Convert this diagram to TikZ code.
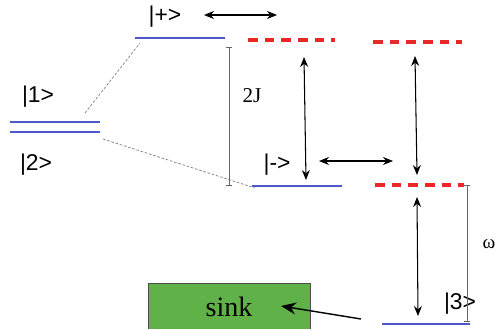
\documentclass[tikz,border=0pt]{standalone}
\usepackage{fontspec}
\setmainfont{Liberation Serif}
\newfontfamily\ketfont{Liberation Sans}
\usetikzlibrary{arrows.meta, positioning}
\definecolor{stateblue}{RGB}{78,88,200}
\definecolor{virtred}{RGB}{232,40,40}
\definecolor{sinkgreen}{RGB}{96,178,72}

\begin{document}
\begin{tikzpicture}[x=0.02cm, y=-0.02cm,
    state/.style={draw=stateblue, line width=1.2pt},
    virt/.style={draw=virtred, line width=1.9pt, dash pattern=on 5.5pt off 4pt},
    ket/.style={font=\ketfont\fontsize{13}{15}\selectfont, inner sep=1pt},
    link/.style={draw=gray, thin, dash pattern=on 1.5pt off 1pt},
    gapline/.style={draw=gray!80!black, thin, {Bar[width=3pt]}-{Bar[width=3pt]}},
    arrow/.style={{Stealth[length=2mm, width=1.6mm]}-{Stealth[length=2mm, width=1.6mm]}, semithick}
]
\useasboundingbox (0,0) rectangle (500,328);

% Levels
\coordinate (oneL) at (10,122);   \coordinate (oneR) at (100,122);
\coordinate (twoL) at (10,132);   \coordinate (twoR) at (100,132);
\coordinate (plusL) at (135,38);  \coordinate (plusR) at (225,38);
\coordinate (minusL) at (252,186);\coordinate (minusR) at (342,186);
\coordinate (threeL) at (382,324);\coordinate (threeR) at (470,324);
\coordinate (vaL) at (248,40);    \coordinate (vaR) at (335,40);
\coordinate (vbL) at (373,42);    \coordinate (vbR) at (462,42);
\coordinate (vcL) at (375,185);   \coordinate (vcR) at (464,185);

\draw [state] (oneL) -- (oneR);
\draw [state] (twoL) -- (twoR);
\draw [state] (plusL) -- (plusR);
\draw [state] (minusL) -- (minusR);
\draw [state] (threeL) -- (threeR);
\draw [virt] (vaL) -- (vaR);
\draw [virt] (vbL) -- (vbR);
\draw [virt] (vcL) -- (vcR);

% Labels
\node [ket] (one) at (38,97) {|1>};
\node [ket] (two) at (36,165) {|2>};
\node [ket] (plus) at (165,17) {|+>};
\node [ket] (minus) at (277,165) {|->};
\node [ket] (three) at (460,304) {|3>};
\node [font=\fontsize{12}{14}\selectfont] (twoJ) at (252,96) {2J};
\node [font=\fontsize{11}{13}\selectfont] (omega) at (489,244) {ω};

\node [draw=black!70, fill=sinkgreen, minimum width=3.24cm, minimum height=0.95cm,
       font=\fontsize{16}{18}\selectfont] (sink) at (229,307) {sink};

% Dotted links
\draw [link] (85,113) -- (140,43);
\draw [link] (103,139) -- (255,188);

% Splittings
\draw [gapline] (229,47) -- (229,186);
\draw [gapline] (467,185) -- (467,322);

% Arrows
\coordinate (topL) at (204,15);   \coordinate (topR) at (277,15);
\coordinate (midL) at (319,161);  \coordinate (midR) at (393,161);
\coordinate (drain) at (361,319); \coordinate (sinkin) at (281,306);
\draw [arrow] (topL) -- (topR);
\draw [arrow] (midL) -- (midR);
\draw [arrow] (304,57) -- (306,180);
\draw [arrow] (415,56) -- (417,175);
\draw [arrow] (417,197) -- (418,316);
\draw [-{Stealth[length=3mm, width=2.4mm]}, thick] (drain) -- (sinkin);

\end{tikzpicture}
\end{document}
